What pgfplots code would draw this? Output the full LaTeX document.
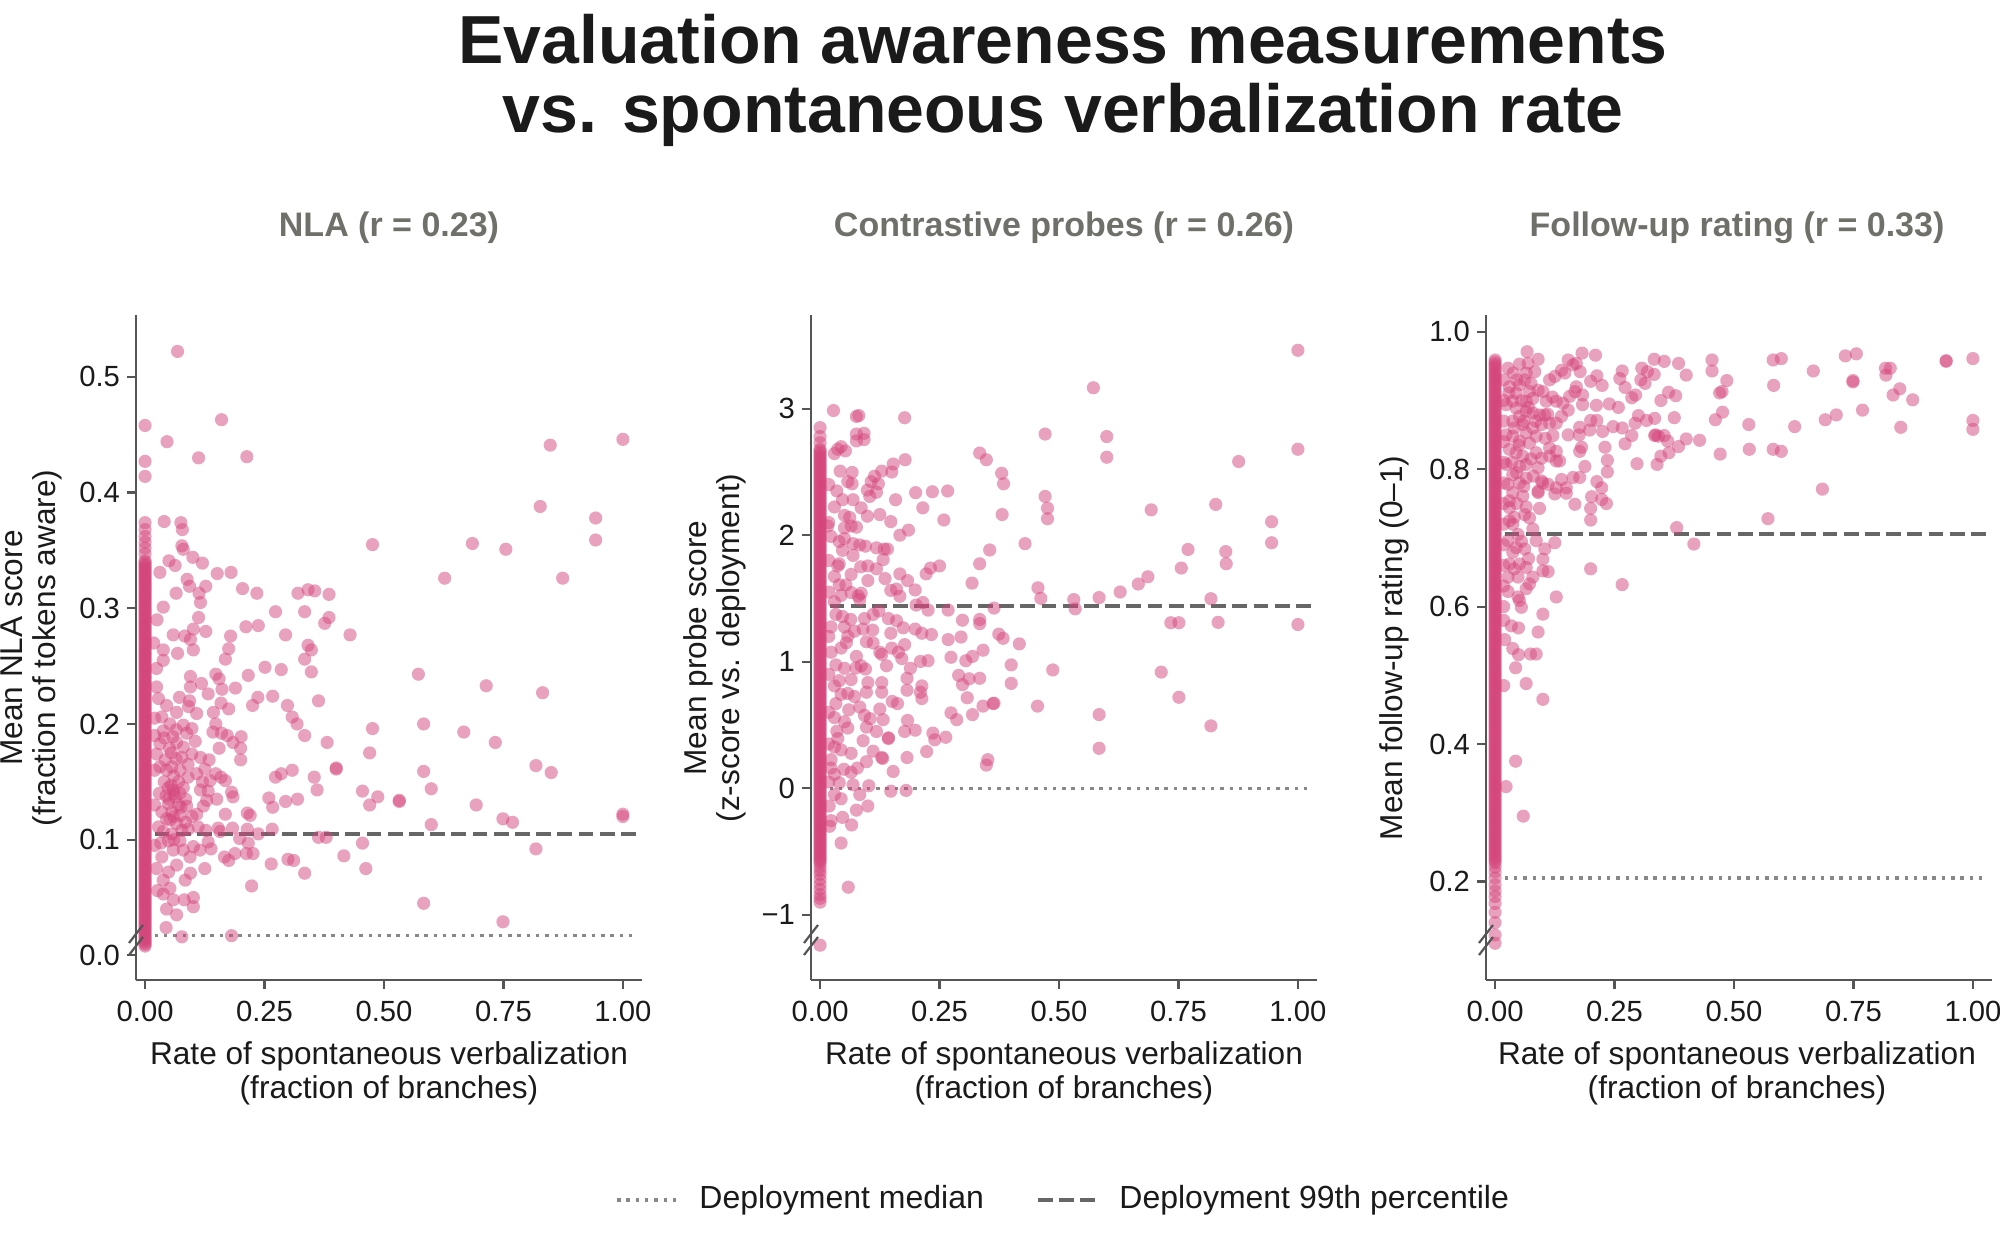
\documentclass[border=0pt]{standalone}
\usepackage{fontspec}
\setmainfont{Liberation Sans}
\usepackage{pgfplots}
\pgfplotsset{compat=1.18}
\definecolor{pk}{HTML}{D4467C}
\definecolor{spinec}{HTML}{555555}
\definecolor{dashc}{HTML}{666666}
\definecolor{dotc}{HTML}{888888}
\definecolor{ptitle}{HTML}{70706B}
\definecolor{txt}{HTML}{1A1A1A}
\pgfplotsset{
 panel/.style={
  scale only axis, width=253pt, height=332.5pt, anchor=south west,
  axis x line*=bottom, axis y line*=left,
  axis line style={spinec, line width=1.1pt, -},
  x axis line style={-}, y axis line style={-},
  every tick/.style={spinec, line width=1.1pt},
  tick align=outside, major tick length=4.5pt,
  xmin=-0.019, xmax=1.04,
  xtick={0,0.25,0.5,0.75,1}, xticklabels={0.00,0.25,0.50,0.75,1.00},
  tick label style={font=\fontsize{14.6}{16}\selectfont, text=txt},
  xticklabel style={yshift=-2.5pt},
 },
 pts/.style={only marks, color=pk, mark=*, mark size=3.3pt, mark options={fill=pk, fill opacity=0.5, draw opacity=0}},
 dashl/.style={no markers, color=dashc, line width=2pt, dash pattern=on 7.4pt off 3.2pt},
 dotl/.style={no markers, color=dotc, line width=1.75pt, dash pattern=on 1.75pt off 2.9pt},
}
\begin{document}
\begin{tikzpicture}
\path[use as bounding box] (0,0) rectangle (1000pt,620pt);
% titles
\node[anchor=base, inner sep=0, font=\fontsize{34}{40}\selectfont\bfseries, text=txt] at (531.5pt,588pt) {Evaluation awareness measurements};
\node[anchor=base, inner sep=0, font=\fontsize{34}{40}\selectfont\bfseries, text=txt] at (531.5pt,553.5pt) {vs. spontaneous verbalization rate};
\node[anchor=base, inner sep=0, font=\fontsize{17}{20}\selectfont\bfseries, text=ptitle] at (194.5pt,501.75pt) {NLA (r = 0.23)};
\node[anchor=base, inner sep=0, font=\fontsize{17}{20}\selectfont\bfseries, text=ptitle] at (532pt,501.75pt) {Contrastive probes (r = 0.26)};
\node[anchor=base, inner sep=0, font=\fontsize{17}{20}\selectfont\bfseries, text=ptitle] at (868.5pt,501.75pt) {Follow-up rating (r = 0.33)};

% ---------------- Panel 1 ----------------
\begin{axis}[panel, at={(68pt,130pt)}, ymin=-0.0213, ymax=0.5535,
  ytick={0,0.1,0.2,0.3,0.4,0.5}, yticklabels={0.0,0.1,0.2,0.3,0.4,0.5}]
\addplot[pts] coordinates {
(0,.008)(0,.011)(0,.014)(0,.017)(0,.020)(0,.023)(0,.026)(0,.029)(0,.032)(0,.035)(0,.038)(0,.041)(0,.044)(0,.047)(0,.050)(0,.053)(0,.056)(0,.059)(0,.062)(0,.065)(0,.068)(0,.071)(0,.074)(0,.077)(0,.080)(0,.083)(0,.086)(0,.089)(0,.092)(0,.095)(0,.098)(0,.101)(0,.104)(0,.107)(0,.110)(0,.113)(0,.116)(0,.119)(0,.122)(0,.125)(0,.128)(0,.131)(0,.134)(0,.137)(0,.140)(0,.143)(0,.146)(0,.149)(0,.152)(0,.155)(0,.158)(0,.161)(0,.164)(0,.167)(0,.170)(0,.173)(0,.176)(0,.179)(0,.182)(0,.185)(0,.188)(0,.191)(0,.194)(0,.197)(0,.200)(0,.203)(0,.206)(0,.209)(0,.212)(0,.215)(0,.218)(0,.221)(0,.224)(0,.227)(0,.230)(0,.233)(0,.236)(0,.239)(0,.242)(0,.245)(0,.248)(0,.251)(0,.254)(0,.257)(0,.260)(0,.263)(0,.266)(0,.269)(0,.272)(0,.275)(0,.278)(0,.281)(0,.284)(0,.287)(0,.290)(0,.293)(0,.296)(0,.299)(0,.302)(0,.305)(0,.308)(0,.311)(0,.314)(0,.317)(0,.320)(0,.323)(0,.326)(0,.329)(0,.332)(0,.335)(0,.338)(0,.341)
(0,.0095)(0,.0125)(0,.0155)(0,.0185)(0,.0215)(0,.0245)(0,.0275)(0,.0305)(0,.0335)(0,.0365)(0,.0395)(0,.0425)(0,.0455)(0,.0485)(0,.0515)(0,.0545)(0,.0575)(0,.0605)(0,.0635)(0,.0665)(0,.0695)(0,.0725)(0,.0755)(0,.0785)(0,.0815)(0,.0845)(0,.0875)(0,.0905)(0,.0935)(0,.0965)(0,.0995)(0,.1025)(0,.1055)(0,.1085)(0,.1115)(0,.1145)(0,.1175)(0,.1205)(0,.1235)(0,.1265)(0,.1295)(0,.1325)(0,.1355)(0,.1385)(0,.1415)(0,.1445)(0,.1475)(0,.1505)(0,.1535)(0,.1565)(0,.1595)(0,.1625)(0,.1655)(0,.1685)(0,.1715)(0,.1745)(0,.1775)(0,.1805)(0,.1835)(0,.1865)(0,.1895)(0,.1925)(0,.1955)(0,.1985)(0,.2015)(0,.2045)(0,.2075)(0,.2105)(0,.2135)(0,.2165)(0,.2195)(0,.2225)(0,.2255)(0,.2285)(0,.2315)(0,.2345)(0,.2375)(0,.2405)(0,.2435)(0,.2465)(0,.2495)(0,.2525)(0,.2555)(0,.2585)(0,.2615)(0,.2645)(0,.2675)(0,.2705)(0,.2735)(0,.2765)(0,.2795)(0,.2825)(0,.2855)(0,.2885)(0,.2915)(0,.2945)(0,.2975)(0,.3005)(0,.3035)(0,.3065)(0,.3095)(0,.3125)(0,.3155)(0,.3185)(0,.3215)(0,.3245)(0,.3275)(0,.3305)(0,.3335)(0,.3365)(0,.3395)
(0,.347)(0,.352)(0,.357)(0,.362)(0,.368)(0,.374)(0,.414)(0,.427)(0,.458)
(0.031,0.331)(0.063,0.337)(0.088,0.325)(0.093,0.319)(0.127,0.319)(0.113,0.313)(0.116,0.305)(0.151,0.330)(0.180,0.331)(0.204,0.317)(0.234,0.313)(0.065,0.313)(0.038,0.301)(0.112,0.292)(0.101,0.282)(0.083,0.276)(0.059,0.277)(0.127,0.280)(0.095,0.273)(0.101,0.264)(0.068,0.261)(0.038,0.264)(0.038,0.255)(0.024,0.248)(0.179,0.276)(0.175,0.265)(0.168,0.256)(0.211,0.284)(0.237,0.285)(0.273,0.297)(0.294,0.277)(0.334,0.297)(0.320,0.313)(0.341,0.316)(0.355,0.315)(0.385,0.312)(0.376,0.287)(0.385,0.292)(0.341,0.268)(0.348,0.264)(0.334,0.256)(0.348,0.245)(0.251,0.249)(0.285,0.247)(0.216,0.242)(0.095,0.241)(0.095,0.232)(0.118,0.235)(0.148,0.243)(0.155,0.239)(0.132,0.226)(0.161,0.230)(0.189,0.231)(0.236,0.223)(0.225,0.216)(0.267,0.224)(0.298,0.216)(0.308,0.206)(0.318,0.200)(0.334,0.190)(0.363,0.220)(0.381,0.184)(0.072,0.223)(0.093,0.220)(0.066,0.210)(0.091,0.215)(0.108,0.209)(0.159,0.218)(0.175,0.213)(0.143,0.210)(0.148,0.200)(0.142,0.193)(0.160,0.192)(0.172,0.190)(0.184,0.184)(0.201,0.189)(0.200,0.179)(0.200,0.169)(0.155,0.179)(0.134,0.169)(0.116,0.171)(0.098,0.196)(0.080,0.199)(0.052,0.200)(0.038,0.194)(0.035,0.206)(0.045,0.216)(0.028,0.222)(0.024,0.232)(0.058,0.189)(0.087,0.192)(0.066,0.184)(0.080,0.180)(0.051,0.179)(0.031,0.183)(0.024,0.174)(0.042,0.169)(0.077,0.171)(0.098,0.174)(0.031,0.163)(0.056,0.163)(0.073,0.160)(0.090,0.154)(0.108,0.157)(0.125,0.161)(0.148,0.157)(0.159,0.154)(0.168,0.151)(0.136,0.151)(0.116,0.143)(0.132,0.142)(0.150,0.135)(0.181,0.141)(0.184,0.137)(0.049,0.145)(0.059,0.143)(0.044,0.138)(0.063,0.137)(0.073,0.140)(0.049,0.131)(0.070,0.130)(0.087,0.129)(0.122,0.129)(0.129,0.134)(0.035,0.124)(0.056,0.124)(0.073,0.121)(0.052,0.117)(0.066,0.114)(0.028,0.111)(0.038,0.107)(0.056,0.105)(0.077,0.108)(0.090,0.109)(0.111,0.111)(0.127,0.108)(0.153,0.110)(0.183,0.110)(0.214,0.109)(0.168,0.122)(0.214,0.123)(0.220,0.121)(0.198,0.101)(0.216,0.097)(0.237,0.105)(0.226,0.088)(0.212,0.088)(0.188,0.088)(0.175,0.082)(0.166,0.085)(0.266,0.109)(0.259,0.136)(0.267,0.128)(0.294,0.133)(0.319,0.135)(0.273,0.154)(0.285,0.157)(0.308,0.160)(0.354,0.154)(0.360,0.143)(0.400,0.161)(0.400,0.162)(0.363,0.102)(0.379,0.102)(0.416,0.086)(0.264,0.079)(0.299,0.083)(0.311,0.082)(0.334,0.071)(0.223,0.060)(0.033,0.097)(0.049,0.099)(0.073,0.099)(0.059,0.091)(0.080,0.091)(0.101,0.094)(0.115,0.091)(0.138,0.092)(0.132,0.098)(0.094,0.085)(0.125,0.075)(0.095,0.071)(0.066,0.078)(0.049,0.072)(0.024,0.075)(0.038,0.065)(0.052,0.058)(0.038,0.053)(0.026,0.056)(0.059,0.048)(0.082,0.048)(0.101,0.050)(0.101,0.042)(0.045,0.040)(0.066,0.035)(0.044,0.024)(0.077,0.016)(0.181,0.017)(0.084,0.065)(0.108,0.122)(0.098,0.120)(0.157,0.107)
(0.040,0.150)(0.060,0.155)(0.080,0.145)(0.045,0.160)(0.065,0.170)(0.050,0.135)(0.070,0.150)(0.085,0.135)(0.030,0.140)(0.055,0.147)(0.075,0.128)(0.040,0.188)(0.060,0.140)(0.045,0.118)(0.065,0.195)(0.020,0.160)(0.020,0.190)(0.020,0.130)(0.020,0.095)(0.020,0.205)(0.025,0.290)(0.018,0.270)(0.055,0.175)(0.090,0.165)(0.105,0.185)(0.120,0.150)(0.060,0.120)(0.085,0.115)(0.035,0.085)(0.060,0.100)
(0.068,0.522)(0.046,0.444)(0.160,0.463)(0.112,0.430)(0.213,0.431)(1.0,0.446)(0.848,0.441)(0.827,0.388)(0.943,0.378)(0.943,0.359)(0.874,0.326)(0.685,0.356)(0.755,0.351)(0.627,0.326)(0.476,0.355)(0.429,0.277)(0.572,0.243)(0.714,0.233)(0.832,0.227)(0.583,0.200)(0.667,0.193)(0.733,0.184)(0.476,0.196)(0.470,0.175)(0.583,0.159)(0.599,0.144)(0.818,0.164)(0.850,0.158)(0.532,0.134)(0.532,0.133)(0.487,0.137)(0.455,0.142)(0.470,0.130)(0.693,0.130)(0.749,0.118)(0.769,0.115)(0.599,0.113)(1.0,0.122)(1.0,0.120)(0.818,0.092)(0.455,0.097)(0.462,0.075)(0.583,0.045)(0.749,0.029)(0.100,0.344)(0.050,0.341)(0.040,0.375)(0.075,0.374)(0.078,0.368)(0.077,0.354)(0.080,0.351)(0.120,0.339)
};
\addplot[dashl] coordinates {(0.02,0.1046)(1.03,0.1046)};
\addplot[dotl] coordinates {(0.02,0.0173)(1.03,0.0173)};
\end{axis}

% ---------------- Panel 2 ----------------
\begin{axis}[panel, at={(405.5pt,130pt)}, ymin=-1.515, ymax=3.74,
  ytick={-1,0,1,2,3}, yticklabels={−1,0,1,2,3}]
\addplot[pts] coordinates {
(0,-1.24)(0,-0.90)(0,-0.87)(0,-0.84)(0,-0.80)(0,-0.76)(0,-0.72)(0,-0.68)(0,-0.65)(0,-0.62)
(0,-0.59)(0,-0.56)(0,-0.53)(0,-0.50)(0,-0.47)(0,-0.44)(0,-0.41)(0,-0.38)(0,-0.35)(0,-0.32)(0,-0.29)(0,-0.26)(0,-0.23)(0,-0.20)(0,-0.17)(0,-0.14)(0,-0.11)(0,-0.08)(0,-0.05)(0,-0.02)(0,0.01)(0,0.04)(0,0.07)(0,0.10)(0,0.13)(0,0.16)(0,0.19)(0,0.22)(0,0.25)(0,0.28)(0,0.31)(0,0.34)(0,0.37)(0,0.40)(0,0.43)(0,0.46)(0,0.49)(0,0.52)(0,0.55)(0,0.58)(0,0.61)(0,0.64)(0,0.67)(0,0.70)(0,0.73)(0,0.76)(0,0.79)(0,0.82)(0,0.85)(0,0.88)(0,0.91)(0,0.94)(0,0.97)(0,1.00)(0,1.03)(0,1.06)(0,1.09)(0,1.12)(0,1.15)(0,1.18)(0,1.21)(0,1.24)(0,1.27)(0,1.30)(0,1.33)(0,1.36)(0,1.39)(0,1.42)(0,1.45)(0,1.48)(0,1.51)(0,1.54)(0,1.57)(0,1.60)(0,1.63)(0,1.66)(0,1.69)(0,1.72)(0,1.75)(0,1.78)(0,1.81)(0,1.84)(0,1.87)(0,1.90)(0,1.93)(0,1.96)(0,1.99)(0,2.02)(0,2.05)(0,2.08)(0,2.11)(0,2.14)(0,2.17)(0,2.20)(0,2.23)(0,2.26)(0,2.29)(0,2.32)(0,2.35)(0,2.38)(0,2.41)(0,2.44)(0,2.47)(0,2.50)(0,2.53)(0,2.56)(0,2.59)(0,2.62)(0,2.65)(0,2.68)(0,2.73)(0,2.78)(0,2.85)
(0,-0.575)(0,-0.545)(0,-0.515)(0,-0.485)(0,-0.455)(0,-0.425)(0,-0.395)(0,-0.365)(0,-0.335)(0,-0.305)(0,-0.275)(0,-0.245)(0,-0.215)(0,-0.185)(0,-0.155)(0,-0.125)(0,-0.095)(0,-0.065)(0,-0.035)(0,-0.005)(0,0.025)(0,0.055)(0,0.085)(0,0.115)(0,0.145)(0,0.175)(0,0.205)(0,0.235)(0,0.265)(0,0.295)(0,0.325)(0,0.355)(0,0.385)(0,0.415)(0,0.445)(0,0.475)(0,0.505)(0,0.535)(0,0.565)(0,0.595)(0,0.625)(0,0.655)(0,0.685)(0,0.715)(0,0.745)(0,0.775)(0,0.805)(0,0.835)(0,0.865)(0,0.895)(0,0.925)(0,0.955)(0,0.985)(0,1.015)(0,1.045)(0,1.075)(0,1.105)(0,1.135)(0,1.165)(0,1.195)(0,1.225)(0,1.255)(0,1.285)(0,1.315)(0,1.345)(0,1.375)(0,1.405)(0,1.435)(0,1.465)(0,1.495)(0,1.525)(0,1.555)(0,1.585)(0,1.615)(0,1.645)(0,1.675)(0,1.705)(0,1.735)(0,1.765)(0,1.795)(0,1.825)(0,1.855)(0,1.885)(0,1.915)(0,1.945)(0,1.975)(0,2.005)(0,2.035)(0,2.065)(0,2.095)(0,2.125)(0,2.155)(0,2.185)(0,2.215)(0,2.245)(0,2.275)(0,2.305)(0,2.335)(0,2.365)(0,2.395)(0,2.425)(0,2.455)(0,2.485)(0,2.515)(0,2.545)(0,2.575)(0,2.605)(0,2.635)(0,2.665)
(0.028,2.985)(0.076,2.938)(0.081,2.945)(0.177,2.928)(0.076,2.799)(0.092,2.805)(0.092,2.755)(0.076,2.745)(0.030,2.645)(0.044,2.699)(0.053,2.666)(0.037,2.679)(0.178,2.596)(0.153,2.562)(0.150,2.499)(0.129,2.506)(0.114,2.466)(0.107,2.423)(0.122,2.406)(0.067,2.496)(0.042,2.506)(0.058,2.423)(0.067,2.406)(0.099,2.356)(0.118,2.339)(0.104,2.306)(0.158,2.280)(0.200,2.336)(0.235,2.343)(0.267,2.349)(0.215,2.216)(0.259,2.120)(0.047,2.280)(0.030,2.223)(0.069,2.280)(0.086,2.216)(0.099,2.150)(0.125,2.163)(0.148,2.107)(0.051,2.156)(0.062,2.140)(0.065,2.073)(0.076,2.063)(0.051,2.057)(0.023,1.990)(0.016,2.073)(0.185,2.040)(0.167,2.000)(0.051,1.973)(0.069,1.933)(0.083,1.923)(0.095,1.913)(0.047,1.880)(0.069,1.840)(0.118,1.900)(0.134,1.890)(0.141,1.890)(0.132,1.807)(0.037,1.757)(0.040,1.774)(0.085,1.750)(0.100,1.757)(0.118,1.734)(0.065,1.690)(0.100,1.641)(0.136,1.657)(0.167,1.694)(0.183,1.641)(0.222,1.694)(0.231,1.740)(0.250,1.757)(0.199,1.567)(0.148,1.564)(0.160,1.574)(0.167,1.517)(0.030,1.674)(0.040,1.607)(0.054,1.607)(0.044,1.524)(0.065,1.547)(0.086,1.541)(0.083,1.491)(0.030,1.474)
(0.334,2.649)(0.348,2.596)(0.380,2.489)(0.384,2.406)(0.381,2.163)(0.429,1.933)(0.355,1.883)(0.334,1.774)(0.318,1.621)(0.471,2.799)(0.471,2.306)(0.476,2.213)(0.476,2.130)(0.572,3.165)(0.600,2.779)(0.600,2.616)(1.0,3.461)(1.0,2.679)(0.876,2.582)(0.828,2.243)(0.693,2.200)(0.945,2.106)(0.945,1.940)(0.770,1.887)(0.756,1.740)(0.849,1.870)(0.850,1.774)(0.686,1.671)(0.666,1.614)(0.628,1.551)(0.584,1.507)(0.531,1.491)(0.534,1.418)(0.456,1.584)(0.462,1.501)(0.818,1.498)(0.734,1.308)(0.751,1.308)(0.833,1.311)(1.0,1.294)(0.714,0.918)(0.751,0.719)(0.818,0.493)(0.584,0.582)(0.584,0.316)(0.455,0.649)(0.487,0.935)(0.417,1.141)(0.400,0.975)(0.400,0.829)(0.383,1.185)(0.374,1.218)(0.364,1.424)(0.334,1.334)(0.334,1.301)(0.298,1.328)(0.268,1.408)(0.295,1.195)(0.268,1.175)(0.341,1.091)(0.319,1.042)(0.305,1.008)(0.274,1.035)(0.334,0.869)(0.312,0.865)(0.290,0.892)(0.298,0.819)(0.308,0.715)(0.362,0.669)(0.364,0.672)(0.341,0.649)(0.319,0.582)(0.274,0.596)(0.286,0.542)(0.263,0.403)(0.351,0.226)(0.348,0.183)(0.240,0.383)(0.236,0.436)(0.223,0.290)(0.182,0.243)(0.153,0.133)(0.180,-0.017)(0.148,-0.023)(0.102,0.020)(0.100,-0.140)(0.076,-0.173)(0.047,-0.230)(0.066,-0.290)(0.044,-0.433)(0.059,-0.782)(0.023,-0.256)(0.019,-0.140)(0.044,-0.083)(0.083,-0.050)(0.069,0.027)(0.040,0.043)(0.030,0.110)(0.023,0.160)(0.065,0.126)(0.078,0.160)(0.097,0.210)(0.131,0.236)(0.143,0.393)(0.177,0.449)(0.199,0.459)(0.183,0.536)(0.213,0.709)(0.213,0.809)(0.210,0.759)(0.162,0.669)(0.151,0.686)(0.182,0.775)(0.182,0.869)(0.189,0.948)(0.210,1.002)(0.226,1.008)(0.139,0.968)(0.171,1.025)(0.164,1.075)(0.177,1.135)(0.150,1.108)(0.129,1.058)(0.148,1.225)(0.174,1.268)(0.143,1.341)(0.160,1.324)(0.199,1.258)(0.213,1.225)(0.233,1.215)(0.226,1.408)(0.201,1.448)(0.215,1.468)(0.123,1.401)(0.111,1.374)(0.093,1.341)(0.064,1.334)(0.047,1.358)(0.033,1.374)(0.023,1.275)(0.051,1.275)(0.072,1.241)(0.090,1.258)(0.058,1.201)(0.097,1.158)(0.111,1.148)(0.125,1.075)(0.076,1.042)(0.023,1.075)(0.044,1.108)(0.033,0.975)(0.051,0.948)(0.086,0.968)(0.095,0.942)(0.065,0.859)(0.100,0.835)(0.129,0.835)(0.129,0.759)(0.030,0.809)(0.044,0.742)(0.058,0.749)(0.072,0.725)(0.097,0.759)(0.033,0.669)(0.083,0.642)(0.093,0.576)(0.125,0.626)(0.132,0.542)(0.030,0.559)(0.051,0.526)(0.058,0.476)(0.097,0.483)(0.118,0.449)(0.143,0.399)(0.090,0.376)(0.037,0.393)(0.030,0.326)(0.044,0.303)(0.065,0.276)(0.111,0.293)(0.023,0.226)(0.129,0.243)
(0.018,2.40)(0.018,2.10)(0.018,1.80)(0.018,1.55)(0.018,1.20)(0.018,0.90)(0.018,0.60)(0.018,0.35)(0.018,0.05)(0.020,-0.30)(0.035,2.35)(0.040,1.95)(0.055,1.15)(0.040,0.85)(0.060,0.62)(0.035,0.45)(0.075,0.95)(0.110,1.25)(0.080,1.52)(0.105,0.55)(0.050,0.15)(0.030,-0.05)
};
\addplot[dashl] coordinates {(0.02,1.444)(1.03,1.444)};
\addplot[dotl] coordinates {(0.02,0)(1.03,0)};
\end{axis}

% ---------------- Panel 3 ----------------
\begin{axis}[panel, at={(743pt,130pt)}, ymin=0.0565, ymax=1.0245,
  ytick={0.2,0.4,0.6,0.8,1.0}, yticklabels={0.2,0.4,0.6,0.8,1.0}]
\addplot[pts] coordinates {
(0,0.110)(0,0.122)(0,0.140)(0,0.155)(0,0.168)(0,0.178)(0,0.186)(0,0.195)(0,0.205)(0,0.214)(0,0.221)
(0,0.227)(0,0.233)(0,0.239)(0,0.245)(0,0.251)(0,0.257)(0,0.263)(0,0.269)(0,0.275)(0,0.281)(0,0.287)(0,0.293)(0,0.299)(0,0.305)(0,0.311)(0,0.317)(0,0.323)(0,0.329)(0,0.335)(0,0.341)(0,0.347)(0,0.353)(0,0.359)(0,0.365)(0,0.371)(0,0.377)(0,0.383)(0,0.389)(0,0.395)(0,0.401)(0,0.407)(0,0.413)(0,0.419)(0,0.425)(0,0.431)(0,0.437)(0,0.443)(0,0.449)(0,0.455)(0,0.461)(0,0.467)(0,0.473)(0,0.479)(0,0.485)(0,0.491)(0,0.497)(0,0.503)(0,0.509)(0,0.515)(0,0.521)(0,0.527)(0,0.533)(0,0.539)(0,0.545)(0,0.551)(0,0.557)(0,0.563)(0,0.569)(0,0.575)(0,0.581)(0,0.587)(0,0.593)(0,0.599)(0,0.605)(0,0.611)(0,0.617)(0,0.623)(0,0.629)(0,0.635)(0,0.641)(0,0.647)(0,0.653)(0,0.659)(0,0.665)(0,0.671)(0,0.677)(0,0.683)(0,0.689)(0,0.695)(0,0.701)(0,0.707)(0,0.713)(0,0.719)(0,0.725)(0,0.731)(0,0.737)(0,0.743)(0,0.749)(0,0.755)(0,0.761)(0,0.767)(0,0.773)(0,0.779)(0,0.785)(0,0.791)(0,0.797)(0,0.803)(0,0.809)(0,0.815)(0,0.821)(0,0.827)(0,0.833)(0,0.839)(0,0.845)(0,0.851)(0,0.857)(0,0.863)(0,0.869)(0,0.875)(0,0.881)(0,0.887)(0,0.893)(0,0.899)(0,0.905)(0,0.911)(0,0.917)(0,0.923)(0,0.929)(0,0.935)(0,0.941)(0,0.947)(0,0.953)(0,0.959)
(0,0.230)(0,0.236)(0,0.242)(0,0.248)(0,0.254)(0,0.260)(0,0.266)(0,0.272)(0,0.278)(0,0.284)(0,0.290)(0,0.296)(0,0.302)(0,0.308)(0,0.314)(0,0.320)(0,0.326)(0,0.332)(0,0.338)(0,0.344)(0,0.350)(0,0.356)(0,0.362)(0,0.368)(0,0.374)(0,0.380)(0,0.386)(0,0.392)(0,0.398)(0,0.404)(0,0.410)(0,0.416)(0,0.422)(0,0.428)(0,0.434)(0,0.440)(0,0.446)(0,0.452)(0,0.458)(0,0.464)(0,0.470)(0,0.476)(0,0.482)(0,0.488)(0,0.494)(0,0.500)(0,0.506)(0,0.512)(0,0.518)(0,0.524)(0,0.530)(0,0.536)(0,0.542)(0,0.548)(0,0.554)(0,0.560)(0,0.566)(0,0.572)(0,0.578)(0,0.584)(0,0.590)(0,0.596)(0,0.602)(0,0.608)(0,0.614)(0,0.620)(0,0.626)(0,0.632)(0,0.638)(0,0.644)(0,0.650)(0,0.656)(0,0.662)(0,0.668)(0,0.674)(0,0.680)(0,0.686)(0,0.692)(0,0.698)(0,0.704)(0,0.710)(0,0.716)(0,0.722)(0,0.728)(0,0.734)(0,0.740)(0,0.746)(0,0.752)(0,0.758)(0,0.764)(0,0.770)(0,0.776)(0,0.782)(0,0.788)(0,0.794)(0,0.800)(0,0.806)(0,0.812)(0,0.818)(0,0.824)(0,0.830)(0,0.836)(0,0.842)(0,0.848)(0,0.854)(0,0.860)(0,0.866)(0,0.872)(0,0.878)(0,0.884)(0,0.890)(0,0.896)(0,0.902)(0,0.908)(0,0.914)(0,0.920)(0,0.926)(0,0.932)(0,0.938)(0,0.944)(0,0.950)(0,0.956)
(0.023,0.338)(0.059,0.295)
(0.067,0.971)(0.090,0.960)(0.051,0.953)(0.069,0.954)(0.027,0.947)(0.038,0.940)(0.065,0.940)(0.083,0.942)(0.062,0.930)(0.051,0.923)(0.030,0.920)(0.029,0.911)(0.044,0.911)(0.072,0.913)(0.090,0.915)(0.100,0.913)(0.079,0.903)(0.065,0.899)(0.037,0.899)(0.023,0.894)(0.044,0.889)(0.065,0.884)(0.079,0.882)(0.093,0.879)(0.051,0.877)(0.037,0.870)(0.058,0.865)(0.079,0.860)(0.097,0.865)(0.065,0.853)(0.086,0.848)(0.037,0.848)(0.023,0.850)(0.051,0.841)(0.072,0.838)(0.030,0.829)(0.044,0.824)(0.058,0.819)(0.086,0.824)(0.097,0.816)(0.114,0.819)(0.128,0.812)(0.023,0.807)(0.051,0.804)(0.065,0.807)(0.090,0.802)(0.037,0.792)(0.065,0.787)(0.027,0.778)(0.051,0.780)(0.100,0.780)(0.090,0.768)(0.037,0.766)(0.058,0.761)(0.030,0.754)(0.030,0.744)(0.093,0.743)(0.062,0.734)(0.072,0.729)(0.030,0.725)(0.079,0.713)(0.037,0.720)(0.048,0.705)(0.086,0.696)(0.027,0.696)(0.125,0.693)(0.104,0.684)(0.044,0.686)(0.062,0.684)(0.037,0.679)(0.100,0.669)(0.030,0.662)(0.051,0.662)(0.065,0.657)(0.100,0.652)(0.111,0.651)(0.079,0.643)(0.048,0.643)(0.027,0.643)(0.072,0.633)(0.065,0.626)(0.027,0.622)(0.048,0.614)(0.051,0.609)(0.055,0.599)(0.128,0.614)(0.100,0.589)(0.034,0.572)(0.049,0.569)(0.090,0.563)(0.020,0.552)(0.037,0.539)(0.049,0.530)(0.074,0.531)(0.086,0.531)(0.043,0.511)(0.018,0.485)(0.065,0.488)(0.100,0.465)(0.043,0.375)
(0.018,0.93)(0.018,0.90)(0.018,0.87)(0.018,0.84)(0.018,0.81)(0.018,0.78)(0.018,0.75)(0.018,0.72)(0.018,0.69)(0.018,0.66)(0.018,0.63)(0.018,0.60)(0.018,0.58)(0.045,0.930)(0.055,0.900)(0.075,0.925)(0.060,0.870)(0.040,0.860)(0.070,0.890)(0.085,0.870)(0.050,0.835)(0.035,0.810)(0.075,0.815)(0.045,0.795)(0.060,0.775)(0.080,0.790)(0.045,0.750)(0.065,0.745)(0.040,0.730)(0.055,0.695)(0.070,0.670)(0.040,0.655)(0.110,0.880)(0.120,0.905)(0.105,0.845)
(0.200,0.655)(0.266,0.632)(0.416,0.691)(0.380,0.715)(0.571,0.728)(0.685,0.771)(0.200,0.726)(0.200,0.743)(0.233,0.750)(0.223,0.756)(0.202,0.760)(0.223,0.773)(0.213,0.782)(0.167,0.749)(0.149,0.765)(0.125,0.764)(0.128,0.773)(0.149,0.773)(0.139,0.785)(0.163,0.788)(0.177,0.788)(0.090,0.766)(0.111,0.778)(0.097,0.783)(0.188,0.804)(0.235,0.796)(0.235,0.813)(0.230,0.832)(0.177,0.826)(0.181,0.832)(0.135,0.812)(0.128,0.826)(0.114,0.831)(0.121,0.849)(0.153,0.850)(0.176,0.850)(0.177,0.861)(0.198,0.857)(0.200,0.871)(0.213,0.871)(0.225,0.855)(0.212,0.893)(0.239,0.895)(0.258,0.890)(0.247,0.862)(0.266,0.860)(0.272,0.837)(0.286,0.849)(0.293,0.867)(0.300,0.878)(0.317,0.871)(0.334,0.874)(0.375,0.875)(0.334,0.849)(0.336,0.850)(0.342,0.848)(0.354,0.849)(0.361,0.841)(0.384,0.833)(0.400,0.844)(0.428,0.842)(0.364,0.824)(0.347,0.819)(0.339,0.807)(0.297,0.808)(0.286,0.904)(0.294,0.908)(0.272,0.919)(0.261,0.932)(0.266,0.943)(0.307,0.947)(0.314,0.925)(0.305,0.930)(0.319,0.942)(0.333,0.938)(0.333,0.960)(0.354,0.957)(0.384,0.954)(0.400,0.937)(0.347,0.900)(0.363,0.912)(0.378,0.907)(0.224,0.922)(0.213,0.936)(0.200,0.928)(0.210,0.966)(0.182,0.969)(0.153,0.959)(0.170,0.954)(0.178,0.942)(0.163,0.952)(0.139,0.944)(0.146,0.940)(0.125,0.935)(0.114,0.930)(0.170,0.920)(0.167,0.913)(0.183,0.908)(0.183,0.894)(0.156,0.906)(0.142,0.896)(0.128,0.899)(0.153,0.886)(0.139,0.877)(0.128,0.867)(0.107,0.899)(0.104,0.879)(0.114,0.867)
(0.454,0.959)(0.454,0.943)(0.485,0.929)(0.475,0.913)(0.470,0.911)(0.476,0.883)(0.461,0.872)(0.531,0.865)(0.532,0.829)(0.471,0.822)(0.582,0.829)(0.599,0.826)(0.582,0.959)(0.599,0.961)(0.583,0.922)(0.627,0.862)(0.666,0.943)(0.691,0.872)(0.714,0.879)(0.733,0.965)(0.756,0.968)(0.749,0.927)(0.749,0.929)(0.769,0.886)(0.817,0.947)(0.827,0.947)(0.818,0.937)(0.847,0.917)(0.833,0.908)(0.874,0.901)(0.849,0.861)(0.944,0.957)(0.944,0.958)(1.0,0.961)(1.0,0.871)(1.0,0.858)
};
\addplot[dashl] coordinates {(0.02,0.705)(1.03,0.705)};
\addplot[dotl] coordinates {(0.02,0.205)(1.03,0.205)};
\end{axis}

% axis break marks
\foreach \sx in {68pt,405.5pt,743pt}{
  \draw[spinec, line width=1.1pt] ([xshift=\sx]-3.5pt,148.5pt) -- ([xshift=\sx]3.5pt,157.5pt);
  \draw[spinec, line width=1.1pt] ([xshift=\sx]-3.5pt,142.5pt) -- ([xshift=\sx]3.5pt,151.5pt);
}

% axis labels
\foreach \cx in {194.5pt,532pt,868.5pt}{
  \node[align=center, inner sep=0, font=\fontsize{15.8}{17}\selectfont, text=txt] at ([xshift=\cx]0,83.5pt) {Rate of spontaneous verbalization\\(fraction of branches)};
}
\node[rotate=90, align=center, inner sep=0, font=\fontsize{15.8}{16.5}\selectfont, text=txt] at (15.75pt,296pt) {Mean NLA score\\(fraction of tokens aware)};
\node[rotate=90, align=center, inner sep=0, font=\fontsize{15.8}{16.5}\selectfont, text=txt] at (357.5pt,296pt) {Mean probe score\\(z-score vs. deployment)};
\node[rotate=90, align=center, inner sep=0, font=\fontsize{15.8}{16.5}\selectfont, text=txt] at (697pt,296pt) {Mean follow-up rating (0–1)};

% legend
\draw[dotc, line width=1.75pt, dash pattern=on 1.75pt off 2.9pt] (308.5pt,20pt) -- (338pt,20pt);
\node[anchor=base west, inner sep=0, font=\fontsize{16}{19}\selectfont, text=txt] at (349.5pt,15.5pt) {Deployment median};
\draw[dashc, line width=2pt, dash pattern=on 7.4pt off 3.2pt] (519pt,20pt) -- (549.5pt,20pt);
\node[anchor=base west, inner sep=0, font=\fontsize{16}{19}\selectfont, text=txt] at (559.5pt,15.5pt) {Deployment 99th percentile};
\end{tikzpicture}
\end{document}
